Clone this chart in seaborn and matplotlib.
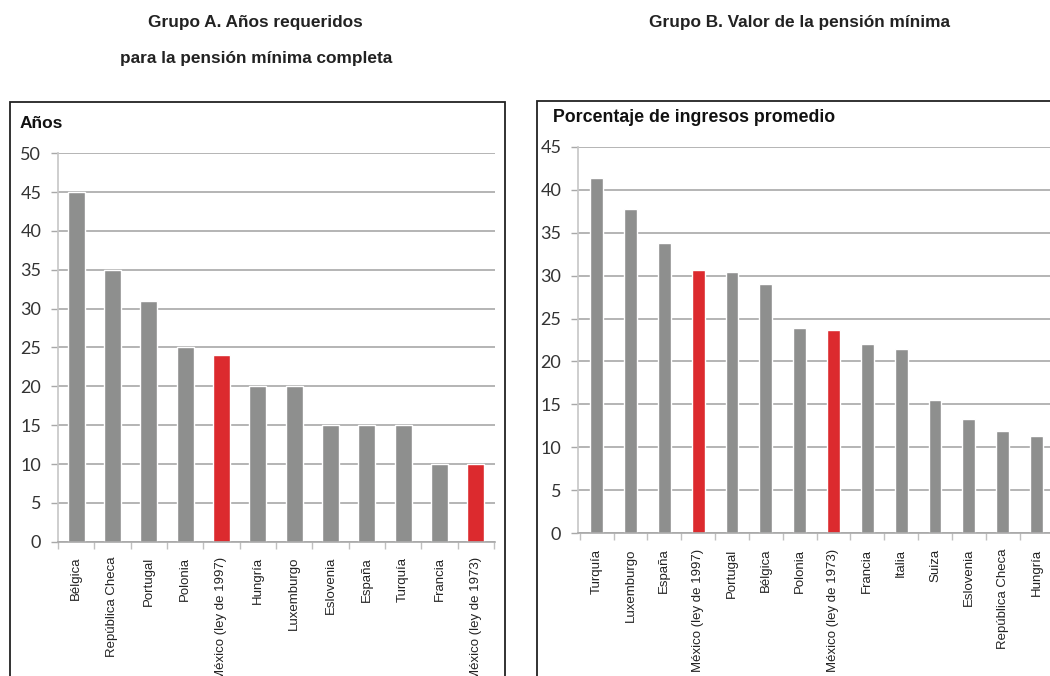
import matplotlib
matplotlib.use("Agg")
import matplotlib.pyplot as plt
import seaborn as sns
import pandas as pd
from matplotlib import font_manager
from matplotlib.patches import Rectangle
from matplotlib.ticker import MultipleLocator, FixedLocator

# Grupo A: años requeridos
paises_a = ["Bélgica", "República Checa", "Portugal", "Polonia", "México (ley de 1997)",
            "Hungría", "Luxemburgo", "Eslovenia", "España", "Turquía", "Francia",
            "México (ley de 1973)"]
anios_a = [45, 35, 31, 25, 24, 20, 20, 15, 15, 15, 10, 10]

# Grupo B: porcentaje de ingresos promedio
paises_b = ["Turquía", "Luxemburgo", "España", "México (ley de 1997)", "Portugal", "Bélgica",
            "Polonia", "México (ley de 1973)", "Francia", "Italia", "Suiza", "Eslovenia",
            "República Checa", "Hungría"]
valores_b = [41.4, 37.8, 33.8, 30.6, 30.4, 29.0, 23.9, 23.7, 22.0, 21.4, 15.5, 13.3, 11.9, 11.3]

GRIS = "#8e8f8e"
ROJO = "#dc2a2e"

sns.set_theme(style="white")
names = {f.name for f in font_manager.fontManager.ttflist}
tick_font = "Lato" if "Lato" in names else "DejaVu Sans"
plt.rcParams["font.family"] = ["Liberation Sans", "DejaVu Sans"]

fig = plt.figure(figsize=(10.5, 6.76), dpi=100)

# marcos de cada panel
fig.add_artist(Rectangle((0.0095, -0.02), 0.4714, 0.8696, transform=fig.transFigure,
                         fill=False, edgecolor="#222222", linewidth=1.3))
fig.add_artist(Rectangle((0.5114, -0.02), 0.52, 0.8706, transform=fig.transFigure,
                         fill=False, edgecolor="#222222", linewidth=1.3))


def panel(rect, cats, vals, ymax, step, width, xlim):
    ax = fig.add_axes(rect)
    df = pd.DataFrame({"pais": cats, "valor": vals})
    pal = {c: (ROJO if c.startswith("México") else GRIS) for c in cats}
    sns.barplot(data=df, x="pais", y="valor", hue="pais", palette=pal, width=width,
                dodge=False, legend=False, saturation=1, ax=ax)
    ax.set_ylim(0, ymax)
    ax.set_xlim(*xlim)
    ax.yaxis.set_major_locator(MultipleLocator(step))
    ax.grid(axis="y", color="#a8a8a8", linewidth=1.2)
    ax.set_axisbelow(True)
    for s in ["top", "right"]:
        ax.spines[s].set_visible(False)
    ax.spines["left"].set_color("#c8c8c8")
    ax.spines["bottom"].set_color("#a8a8a8")
    ax.spines["bottom"].set_linewidth(1.2)
    ax.set_xlabel("")
    ax.set_ylabel("")
    ax.tick_params(axis="y", length=5, width=1, color="#a8a8a8", pad=7, labelsize=13,
                   labelcolor="#333333", left=True)
    for t in ax.get_yticklabels():
        t.set_fontfamily(tick_font)
    ax.set_xticks(range(len(cats)))
    ax.set_xticklabels(cats, rotation=90, fontsize=9.5, color="#222222")
    ax.tick_params(axis="x", length=0, pad=11)
    ax.xaxis.set_minor_locator(FixedLocator([i + 0.5 for i in range(-1, len(cats))]))
    ax.tick_params(axis="x", which="minor", length=5, color="#c0c0c0", bottom=True)
    return ax


ax1 = panel([0.0552, 0.1987, 0.4162, 0.5745], paises_a, anios_a, 50, 5, 0.47, (-0.5, 11.53))
ax2 = panel([0.5505, 0.2111, 0.4495, 0.5719], paises_b, valores_b, 45, 5, 0.38, (-0.55, 13.4))

fig.text(0.019, 0.818, "Años", fontsize=12.5, fontweight="bold", color="#111111",
         va="center", ha="left")
fig.text(0.527, 0.826, "Porcentaje de ingresos promedio", fontsize=12.8, fontweight="bold",
         color="#111111", va="center", ha="left")

fig.text(0.243, 0.967, "Grupo A. Años requeridos", fontsize=12.4, fontweight="bold",
         color="#222222", ha="center", va="center")
fig.text(0.244, 0.913, "para la pensión mínima completa", fontsize=12.4, fontweight="bold",
         color="#222222", ha="center", va="center")
fig.text(0.761, 0.967, "Grupo B. Valor de la pensión mínima", fontsize=12.4, fontweight="bold",
         color="#222222", ha="center", va="center")

fig.savefig("out.png", dpi=100)
